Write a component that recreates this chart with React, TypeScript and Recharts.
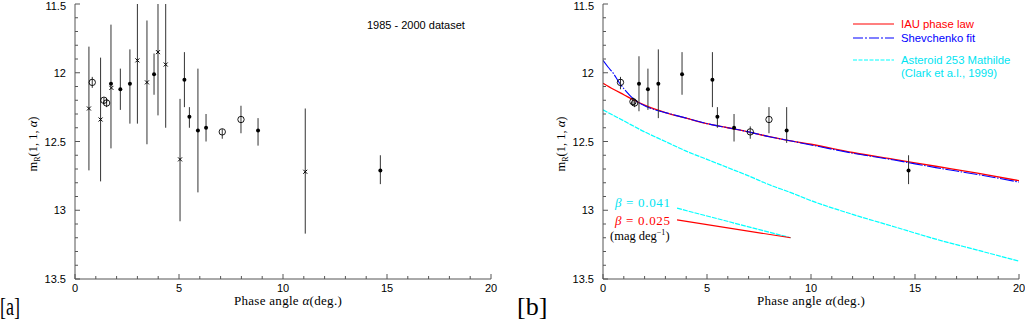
import { ComposedChart, ErrorBar, Legend, Line, Scatter, XAxis, YAxis } from "recharts";

// axis ticks (minor every 1 deg / 0.1 mag, labels on the majors)
const X_TICKS = [0, 1, 2, 3, 4, 5, 6, 7, 8, 9, 10, 11, 12, 13, 14, 15, 16, 17, 18, 19, 20];
const X_LABELS = [0, 5, 10, 15, 20];
const Y_TICKS = [
  11.5, 11.6, 11.7, 11.8, 11.9, 12, 12.1, 12.2, 12.3, 12.4, 12.5, 12.6, 12.7, 12.8, 12.9, 13, 13.1,
  13.2, 13.3, 13.4, 13.5,
];
const Y_LABELS = [11.5, 12, 12.5, 13, 13.5];

// [phase angle, magnitude, error bar top, error bar bottom]
const A_DOTS = [
  [1.73, 12.08, 11.65, 12.55],
  [2.18, 12.12, 11.97, 12.27],
  [2.64, 12.08, 11.83, 12.37],
  [3.8, 12.01, 11.86, 12.16],
  [5.26, 12.05, 11.85, 12.25],
  [5.5, 12.32, 12.25, 12.4],
  [5.91, 12.42, 11.97, 12.87],
  [6.3, 12.4, 12.3, 12.5],
  [8.8, 12.42, 12.33, 12.53],
  [14.68, 12.71, 12.6, 12.81],
];
const A_CIRCLES = [
  [0.83, 12.07, 12.03, 12.11],
  [1.39, 12.2, 12.18, 12.23],
  [1.52, 12.22, 12.19, 12.25],
  [7.08, 12.43, 12.41, 12.48],
  [7.98, 12.34, 12.24, 12.44],
];
const A_CROSSES = [
  [0.67, 12.26, 11.81, 12.71],
  [1.23, 12.34, 11.89, 12.79],
  [1.75, 12.11, 12.11, 12.11],
  [3.0, 11.91, 11.5, 12.37],
  [3.46, 12.07, 11.62, 12.52],
  [3.99, 11.85, 11.5, 12.31],
  [4.36, 11.94, 11.5, 12.4],
  [5.05, 12.63, 12.19, 13.08],
  [11.07, 12.72, 12.26, 13.17],
];

const B_DOTS = [
  [1.73, 12.08, 11.88, 12.28],
  [2.16, 12.12, 11.97, 12.27],
  [2.66, 12.08, 11.83, 12.33],
  [3.8, 12.01, 11.85, 12.16],
  [5.26, 12.05, 11.85, 12.25],
  [5.5, 12.32, 12.25, 12.4],
  [6.3, 12.4, 12.3, 12.5],
  [8.83, 12.42, 12.25, 12.51],
  [14.69, 12.71, 12.6, 12.81],
];
const B_CIRCLES = [
  [0.84, 12.07, 12.03, 12.12],
  [1.44, 12.21, 12.18, 12.24],
  [1.52, 12.22, 12.19, 12.25],
  [7.08, 12.43, 12.39, 12.48],
  [7.98, 12.34, 12.25, 12.44],
];

// model curves: [phase angle, magnitude]
const IAU_LAW = [
  [0, 12.076], [0.5, 12.12], [1, 12.16], [1.5, 12.2], [2, 12.235], [2.5, 12.265], [3, 12.29],
  [4, 12.33], [5, 12.37], [6, 12.4], [7, 12.43], [8, 12.465], [9, 12.495], [10, 12.52],
  [12, 12.58], [14, 12.63], [16, 12.68], [18, 12.73], [20, 12.785],
];
const SHEVCHENKO = [
  [0, 11.91], [0.25, 11.96], [0.5, 12.005], [0.75, 12.065], [1, 12.115], [1.5, 12.195],
  [2, 12.24], [2.5, 12.27], [3, 12.29], [4, 12.33], [5, 12.37], [6, 12.4], [7, 12.43],
  [8, 12.465], [9, 12.495], [10, 12.525], [12, 12.585], [14, 12.635], [16, 12.69], [18, 12.74],
  [20, 12.795],
];
const MATHILDE = [
  [0, 12.27], [1, 12.35], [2, 12.43], [3, 12.5], [4, 12.57], [5, 12.63], [6, 12.69], [7, 12.75],
  [8, 12.815], [9, 12.87], [10, 12.93], [12, 13.03], [14, 13.12], [16, 13.21], [18, 13.29],
  [20, 13.37],
];
const BETA_MATHILDE = [[3.56, 12.985], [9.02, 13.2]];
const BETA_IAU = [[3.56, 13.07], [9.02, 13.2]];

const AXIS = "#555";
const RED = "#ff0000";
const BLUE = "#0000ff";
const CYAN = "#00ffff";
const CYAN_TEXT = "#00e4f2";
const BLUE_DASH = "14 1.5 1.5 1.5";
const CYAN_DASH = "5 1";
const SANS = "'Liberation Sans', Arial, sans-serif";
const SERIF = "'Liberation Serif', 'Times New Roman', serif";

const toPoints = (rows: number[][]) =>
  rows.map(([x, y, top, bottom]) => ({ x, y, err: [y - top, bottom - y] }));
const toCurve = (rows: number[][]) => rows.map(([x, y]) => ({ x, y }));

const isMajor = (v: number, majors: number[]) => majors.some((m) => Math.abs(m - v) < 1e-6);

type Side = "left" | "right" | "top" | "bottom";

// inward-pointing ticks, labels only on the majors of the left/bottom axes
function tickFor(side: Side) {
  return (props: any) => {
    const { x, y, payload } = props;
    const v = payload.value as number;
    const vertical = side === "left" || side === "right";
    const major = isMajor(v, vertical ? Y_LABELS : X_LABELS);
    const len = major ? 5 : 3;
    let x2 = x;
    let y2 = y;
    if (side === "left") x2 = x + len;
    if (side === "right") x2 = x - len;
    if (side === "bottom") y2 = y - len;
    if (side === "top") y2 = y + len;
    return (
      <g>
        <line x1={x} y1={y} x2={x2} y2={y2} stroke={AXIS} strokeWidth={1} />
        {major && side === "left" && (
          <text x={x - 9} y={Math.max(y + 4, 10)} textAnchor="end" fontFamily={SANS} fontSize={11} fill="#000">
            {v}
          </text>
        )}
        {major && side === "bottom" && (
          <text x={x} y={y + 13} textAnchor="middle" fontFamily={SANS} fontSize={11} fill="#000">
            {v}
          </text>
        )}
      </g>
    );
  };
}

const FilledDot = (p: any) => <circle cx={p.cx} cy={p.cy} r={2} fill="#000" />;
const OpenCircle = (p: any) => (
  <circle cx={p.cx} cy={p.cy} r={3.2} fill="none" stroke="#000" strokeWidth={0.9} />
);
const Cross = (p: any) => (
  <g stroke="#000" strokeWidth={1}>
    <line x1={p.cx - 2} y1={p.cy - 2} x2={p.cx + 2} y2={p.cy + 2} />
    <line x1={p.cx - 2} y1={p.cy + 2} x2={p.cx + 2} y2={p.cy - 2} />
  </g>
);

function Points({ rows, shape }: { rows: number[][]; shape: (p: any) => any }) {
  return (
    <Scatter data={toPoints(rows)} dataKey="y" shape={shape} isAnimationActive={false} legendType="none">
      <ErrorBar dataKey="err" direction="y" width={0} stroke="#333" strokeWidth={1} isAnimationActive={false} />
    </Scatter>
  );
}

const LEGEND_ROWS = [
  { label: ["IAU phase law"], color: RED, text: RED, dash: undefined },
  { label: ["Shevchenko fit"], color: BLUE, text: BLUE, dash: "10 2 2 2" },
  { label: ["Asteroid 253 Mathilde", "(Clark et a.l., 1999)"], color: CYAN, text: CYAN_TEXT, dash: "4 1.5" },
];
const LEGEND_Y = [10, 24, 46];

function CurveLegend() {
  return (
    <svg width={170} height={70} style={{ display: "block" }}>
      {LEGEND_ROWS.map((r, i) => (
        <g key={r.label[0]}>
          <line x1={0} y1={LEGEND_Y[i]} x2={41} y2={LEGEND_Y[i]} stroke={r.color} strokeWidth={1.2} strokeDasharray={r.dash} />
          {r.label.map((t, j) => (
            <text key={t} x={48} y={LEGEND_Y[i] + 4 + j * 13} fontFamily={SANS} fontSize={11.3} fill={r.text}>
              {t}
            </text>
          ))}
        </g>
      ))}
    </svg>
  );
}

function Panel({ left, width, right, children }: { left: number; width: number; right: number; children: any }) {
  return (
    <div style={{ position: "absolute", left, top: 0 }}>
      <ComposedChart width={width} height={321} margin={{ top: 4, right, bottom: 0, left: 0 }}>
        <XAxis
          dataKey="x"
          type="number"
          domain={[0, 20]}
          allowDataOverflow
          ticks={X_TICKS}
          interval={0}
          tickSize={0}
          tickMargin={0}
          tickLine={false}
          tick={tickFor("bottom")}
          axisLine={{ stroke: AXIS }}
          height={42}
        />
        <XAxis
          xAxisId="top"
          orientation="top"
          type="number"
          domain={[0, 20]}
          allowDataOverflow
          ticks={X_TICKS}
          interval={0}
          tickSize={0}
          tickMargin={0}
          tickLine={false}
          tick={tickFor("top")}
          axisLine={{ stroke: AXIS }}
          height={0}
        />
        <YAxis
          dataKey="y"
          type="number"
          domain={[11.5, 13.5]}
          reversed
          allowDataOverflow
          ticks={Y_TICKS}
          interval={0}
          tickSize={0}
          tickMargin={0}
          tickLine={false}
          tick={tickFor("left")}
          axisLine={{ stroke: AXIS }}
          width={75}
        />
        <YAxis
          yAxisId="right"
          orientation="right"
          type="number"
          domain={[11.5, 13.5]}
          reversed
          allowDataOverflow
          ticks={Y_TICKS}
          interval={0}
          tickSize={0}
          tickMargin={0}
          tickLine={false}
          tick={tickFor("right")}
          axisLine={{ stroke: AXIS }}
          width={0}
        />
        {children}
      </ComposedChart>
    </div>
  );
}

function YTitle({ x }: { x: number }) {
  return (
    <text transform={`translate(${x},144) rotate(-90)`} textAnchor="middle" fontFamily={SERIF} fontSize={12.5} fill="#000">
      m<tspan fontSize={8} dy={3}>R</tspan>
      <tspan dy={-3}>(1, 1, </tspan>
      <tspan fontStyle="italic">α</tspan>)
    </text>
  );
}

function XTitle({ x }: { x: number }) {
  return (
    <text x={x} y={305} textAnchor="middle" fontFamily={SERIF} fontSize={13} fill="#000" letterSpacing={0.3}>
      Phase angle <tspan fontStyle="italic">α</tspan>(deg.)
    </text>
  );
}

export default function App() {
  return (
    <div style={{ position: "absolute", left: 0, top: 0, width: 1025, height: 321, background: "#fff" }}>
      <Panel left={0} width={510} right={19}>
        <Points rows={A_CROSSES} shape={Cross} />
        <Points rows={A_CIRCLES} shape={OpenCircle} />
        <Points rows={A_DOTS} shape={FilledDot} />
      </Panel>
      <Panel left={528} width={497} right={6}>
        <Line data={toCurve(MATHILDE)} dataKey="y" name="Asteroid 253 Mathilde" type="monotone" stroke={CYAN} strokeWidth={1.2} strokeDasharray={CYAN_DASH} dot={false} isAnimationActive={false} />
        <Line data={toCurve(BETA_MATHILDE)} dataKey="y" type="linear" stroke={CYAN} strokeWidth={1.2} strokeDasharray={CYAN_DASH} dot={false} legendType="none" isAnimationActive={false} />
        <Line data={toCurve(BETA_IAU)} dataKey="y" type="linear" stroke={RED} strokeWidth={1.2} dot={false} legendType="none" isAnimationActive={false} />
        <Line data={toCurve(IAU_LAW)} dataKey="y" name="IAU phase law" type="monotone" stroke={RED} strokeWidth={1.3} dot={false} isAnimationActive={false} />
        <Line data={toCurve(SHEVCHENKO)} dataKey="y" name="Shevchenko fit" type="monotone" stroke={BLUE} strokeWidth={1.1} strokeDasharray={BLUE_DASH} dot={false} isAnimationActive={false} />
        <Points rows={B_CIRCLES} shape={OpenCircle} />
        <Points rows={B_DOTS} shape={FilledDot} />
        <Legend
          layout="horizontal"
          verticalAlign="middle"
          align="center"
          content={CurveLegend}
          wrapperStyle={{ position: "absolute", left: 325, top: 14, width: 170, height: 70 }}
        />
      </Panel>
      <svg width={1025} height={321} style={{ position: "absolute", left: 0, top: 0, pointerEvents: "none" }}>
        <text x={367} y={29} fontFamily={SANS} fontSize={11} fill="#000">
          1985 - 2000 dataset
        </text>
        <YTitle x={37} />
        <YTitle x={565} />
        <XTitle x={288} />
        <XTitle x={811} />
        <text x={0} y={315} fontFamily={SERIF} fontSize={26} fill="#000" textLength={20} lengthAdjust="spacingAndGlyphs">
          [a]
        </text>
        <text x={517} y={315} fontFamily={SERIF} fontSize={26} fill="#000">
          [b]
        </text>
        <text x={615} y={207} fontFamily={SERIF} fontSize={13} fill={CYAN_TEXT} textLength={55}>
          <tspan fontStyle="italic">β</tspan> = 0.041
        </text>
        <text x={615} y={224.5} fontFamily={SERIF} fontSize={13} fill={RED} textLength={55}>
          <tspan fontStyle="italic">β</tspan> = 0.025
        </text>
        <text x={610} y={240} fontFamily={SERIF} fontSize={12.5} fill="#000">
          (mag deg<tspan fontSize={8} dy={-5}>−1</tspan>
          <tspan dy={5}>)</tspan>
        </text>
      </svg>
    </div>
  );
}
